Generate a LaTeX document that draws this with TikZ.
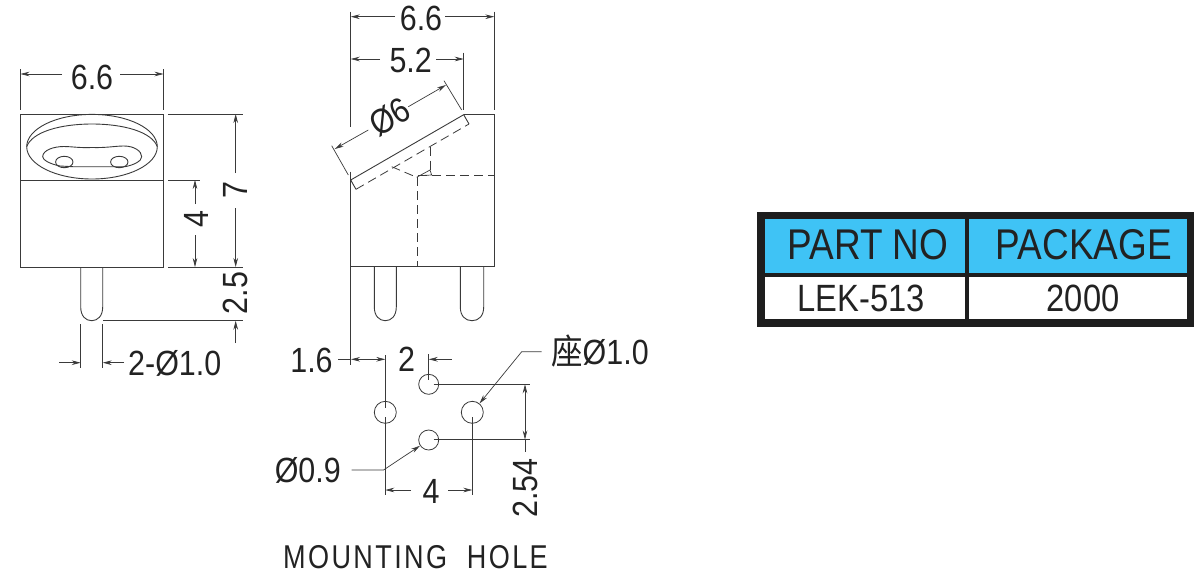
\documentclass[tikz,border=0pt]{standalone}
\usepackage{fontspec}
\setmainfont[FakeStretch=0.87]{Liberation Sans}
\newfontfamily\cellfont[FakeStretch=0.86]{Liberation Sans}
\newfontfamily\titlefont[FakeStretch=0.82,LetterSpace=7.2]{Liberation Sans}
\newfontfamily\cjkfont[FakeStretch=0.9]{Noto Sans CJK SC}
\usetikzlibrary{arrows.meta}
\definecolor{inkgray}{HTML}{3A3A3A}
\definecolor{textblack}{HTML}{222222}
\definecolor{headblue}{HTML}{3FC3F5}
\definecolor{framedark}{HTML}{1E1E1E}

\begin{document}
\begin{tikzpicture}[x=1pt,y=-1pt,>={Stealth[length=9pt,width=4.6pt]},
  outline/.style={draw=inkgray,line width=0.9pt},
  hidden/.style={draw=inkgray,line width=0.8pt,dash pattern=on 9pt off 5pt},
  dimline/.style={draw=inkgray,line width=0.7pt},
  hole/.style={circle,draw=inkgray,line width=0.8pt,inner sep=0pt},
  dimtext/.style={text=textblack,inner sep=0pt,font=\fontsize{35}{35}\selectfont},
  cellhead/.style={text=textblack,inner sep=0pt,font=\cellfont\fontsize{43}{43}\selectfont},
  cellbody/.style={text=textblack,inner sep=0pt,font=\cellfont\fontsize{38}{38}\selectfont}]
\useasboundingbox (0,0) rectangle (1200,582);
% front view
\draw[outline] (20.5,114) rectangle (163.5,267);
\draw[outline] (20.5,180) -- (163.5,180);
\draw[outline] (92,146.7) ellipse (65.3pt and 32.3pt);
\draw[outline] (26.7,146.7) .. controls (32,132) and (60,124) .. (92,124) .. controls (124,124) and (152,132) .. (157.3,146.7);
\draw[outline] (73,166.7) -- (60,166) .. controls (50,164) and (42.7,160) .. (42.7,156.7) .. controls (42.7,150) and (54,146.5) .. (64,146.5)
  .. controls (72,146.5) and (78,148) .. (92,147.5) .. controls (106,148) and (115,146) .. (124,146)
  .. controls (134,146) and (141.7,151) .. (141.7,156.7) .. controls (141.7,161) and (134,165) .. (125,166.7) -- cycle;
\draw[outline] (64.3,162) ellipse (8.7pt and 5.7pt);
\draw[outline] (119.3,162) ellipse (8.7pt and 5.7pt);
\foreach \pl/\pr/\pt in {80.7/102.7/267,374.3/396.3/266.7,460.3/483.7/266.7}
  \draw[outline] (\pl,\pt) -- (\pl,307) .. controls (\pl,316) and ({\pl+5},320.7) .. ({(\pl+\pr)/2},320.7)
    .. controls ({\pr-5},320.7) and (\pr,316) .. (\pr,307) -- (\pr,\pt);
% front view dimensions
\draw[dimline] (20.5,69) -- (20.5,110) (163.5,69) -- (163.5,110);
\draw[dimline,->] (62,74) -- (20.5,74);
\draw[dimline,->] (120,74) -- (163.5,74);
\node[dimtext] (frontwidth) at (92,77) {6.6};
\draw[dimline] (168,114) -- (243,114) (168,180) -- (200,180) (168,267) -- (243,267) (103,320.7) -- (243,320.7);
\draw[dimline,->] (235.7,173) -- (235.7,114);
\draw[dimline,->] (235.7,208) -- (235.7,267);
\node[dimtext,rotate=90] (frontheight) at (235.7,190) {7};
\draw[dimline,->] (195,204) -- (195,180);
\draw[dimline,->] (195,235) -- (195,267);
\node[dimtext,rotate=90] (bodyheight) at (196,219) {4};
\node[dimtext,rotate=90] (pinlength) at (235.7,293) {2.5};
\draw[dimline,->] (235.7,343) -- (235.7,320.7);
\draw[dimline] (80.7,324) -- (80.7,368) (102.7,324) -- (102.7,368);
\draw[dimline,->] (59,362.7) -- (80.7,362.7);
\draw[dimline,->] (124,362.7) -- (102.7,362.7);
\node[dimtext,anchor=west] (pindia) at (128,363) {2-Ø1.0};
% side view
\draw[outline] (463.7,114.7) -- (494.3,114.7) -- (494.3,266.7) -- (350.7,266.7);
\draw[outline] (350.7,180) -- (350.7,365);
\draw[outline] (350.7,180) -- (463.7,114.7) -- (469,124) (350.7,180) -- (356,189.3);
\draw[hidden] (356,189.3) -- (469,124);
\draw[hidden] (391.7,166.7) -- (416.7,177.3);
\draw[hidden] (430,146.7) -- (430,170);
\draw[dimline] (416.7,177.3) -- (430,170) -- (431.7,175) -- (418,175.7);
\draw[hidden] (418,175.7) -- (494.3,175.7);
\draw[hidden] (417.7,177.3) -- (417.7,266.7);
% side view dimensions
\draw[dimline] (350.7,11.7) -- (350.7,126.7) (350.7,171.7) -- (350.7,180);
\draw[dimline] (494.3,11.7) -- (494.3,110) (463.7,52.7) -- (463.7,110);
\draw[dimline,->] (395,16.7) -- (350.7,16.7);
\draw[dimline,->] (445,16.7) -- (494.3,16.7);
\node[dimtext] (sidewidth) at (421,18.5) {6.6};
\draw[dimline,->] (380,59) -- (350.7,59);
\draw[dimline,->] (436,59) -- (463.7,59);
\node[dimtext] (offsetwidth) at (410.7,60.5) {5.2};
\draw[dimline] (348.3,175) -- (331.7,145.7) (461.7,110) -- (444,80.7);
\draw[dimline,->] (368.3,130) -- (334.7,149);
\draw[dimline,->] (408.3,106.7) -- (446,85);
\node[dimtext,rotate=30] (platedia) at (390,117) {Ø6};
% mounting hole
\node[hole,minimum size=20pt] (holetop) at (428.7,384.3) {};
\node[hole,minimum size=20pt] (holebot) at (428.7,440) {};
\node[hole,minimum size=22pt] (holeleft) at (385.3,412.3) {};
\node[hole,minimum size=22pt] (holeright) at (472.3,412.3) {};
\draw[dimline] (385.3,355) -- (385.3,408) (385.3,417) -- (385.3,495);
\draw[dimline] (472.3,417) -- (472.3,495) (428.7,354) -- (428.7,380);
\draw[dimline] (433.5,384.3) -- (530,384.3) (433.5,439.5) -- (530,439.5);
\draw[dimline,<->] (525,384.3) -- (525,439.5);
\draw[dimline] (525,439.5) -- (525,452);
\node[dimtext,rotate=90] (rowpitch) at (525,488) {2.54};
\draw[dimline,<->] (351,359.3) -- (385.3,359.3);
\draw[dimline] (338,359.3) -- (351,359.3);
\node[dimtext] (edgeoffset) at (311.5,360) {1.6};
\node[dimtext] (halfpitch) at (406.5,359) {2};
\draw[dimline,->] (451.5,359.3) -- (428.7,359.3);
\draw[dimline,->] (411,490) -- (385.3,490);
\draw[dimline,->] (448,490) -- (472.3,490);
\node[dimtext] (holepitch) at (431,491) {4};
\node[dimtext,anchor=west] (seatlabel) at (551,351) {{\cjkfont 座}Ø1.0};
\node[dimtext,anchor=east] (drilllabel) at (341,470) {Ø0.9};
\coordinate (seatbend) at (521.7,351.7);
\coordinate (drillbend) at (383.5,470);
\draw[dimline,->] (541.7,351.7) -- (seatbend) -- (holeright);
\draw[dimline,->] (351.7,470) -- (drillbend) -- (holebot);
\node[dimtext,font=\titlefont\fontsize{33}{33}\selectfont] (mounttitle) at (415.5,557) {MOUNTING\ \ HOLE};
% parts table
\fill[framedark] (757.3,212.3) rectangle (1194,326.7);
\fill[headblue] (765,219) rectangle (965,273.3);
\fill[headblue] (969,219) rectangle (1186.7,273.3);
\fill[white] (765,276.7) rectangle (965,319.3);
\fill[white] (969,276.7) rectangle (1186.7,319.3);
\node[cellhead] (partno) at (868,245) {PART NO};
\node[cellhead] (package) at (1084,245) {PACKAGE};
\node[cellbody] (partval) at (861,298) {LEK-513};
\node[cellbody] (packval) at (1083,298) {2000};
\end{tikzpicture}
\end{document}
